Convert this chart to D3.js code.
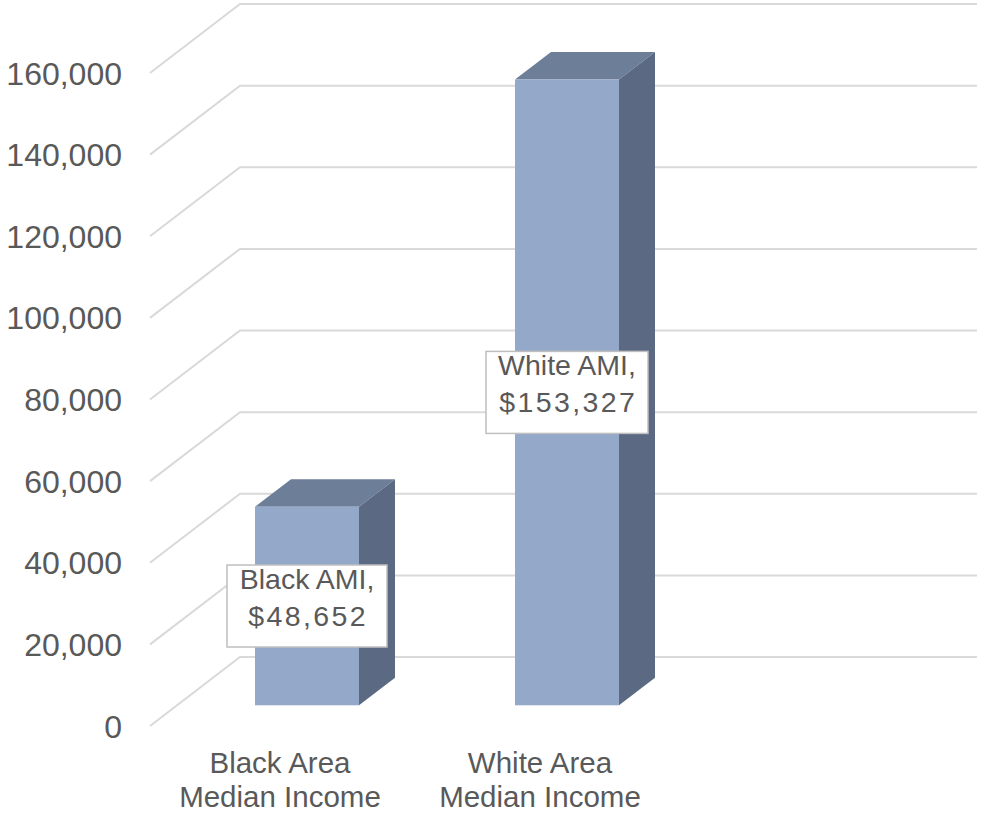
<!DOCTYPE html>
<html lang="en">
<head>
<meta charset="utf-8">
<script type="text/javascript" src="https://d3js.org/d3.v7.min.js"></script>
<style>
    body { margin: 0; background: #fff; }
    svg text { font-family: "Liberation Sans", Arial, sans-serif; fill: #595959; }
</style>
</head>
<body>
<div id="chart"></div>
<script>
    const categories = ["Black Area Median Income", "White Area Median Income"],
        categoryLines = [["Black Area", "Median Income"], ["White Area", "Median Income"]],
        values = [48652, 153327],
        labelNames = ["Black AMI", "White AMI"],
        tickValues = [0, 20000, 40000, 60000, 80000, 100000, 120000, 140000, 160000];

    var width = 982,
        height = 817,
        floorY = 726,        // front edge of the floor
        depthX = 90,         // full depth offset of the back wall
        depthY = -69,
        backRight = 977,
        barFront = 0.3,      // bars sit between these depth fractions
        barBack = 0.7;

    var y = d3.scaleLinear()
                .domain([0, 160000])
                .range([0, 653]);

    var x = d3.scaleBand()
                .domain(categories)
                .range([150, 670])
                .paddingInner(0.6)
                .paddingOuter(0.3);

    // project (floor x, value, depth fraction) onto the screen
    const px = (xv, d) => xv + d * depthX;
    const py = (v, d) => floorY - y(v) + d * depthY;

    var svg = d3.select("#chart")
                .append("svg")
                .attr("width", width)
                .attr("height", height);

    var grid = svg.append("g")
                .attr("fill", "none")
                .attr("stroke", "#d9d9d9")
                .attr("stroke-width", 2);

    // side wall diagonals + back wall lines
    grid.selectAll("path")
        .data(tickValues)
        .enter()
        .append("path")
        .attr("d", function(v) {
            return "M" + 150 + "," + py(v, 0) +
                   "L" + px(150, 1) + "," + py(v, 1) +
                   "L" + backRight + "," + py(v, 1);
        });

    // tick labels
    svg.append("g")
        .selectAll("text")
        .data(tickValues)
        .enter()
        .append("text")
        .attr("x", 122)
        .attr("y", function(v) { return py(v, 0); })
        .attr("dy", "0.36em")
        .attr("text-anchor", "end")
        .style("font-size", "32px")
        .text(d3.format(","));

    var bars = svg.append("g")
                .selectAll("g")
                .data(values)
                .enter()
                .append("g");

    // top face
    bars.append("path")
        .attr("fill", "#6d7e99")
        .attr("d", function(v, i) {
            var x0 = x(categories[i]), x1 = x0 + x.bandwidth();
            return "M" + px(x0, barFront) + "," + py(v, barFront) +
                   "L" + px(x0, barBack) + "," + py(v, barBack) +
                   "L" + px(x1, barBack) + "," + py(v, barBack) +
                   "L" + px(x1, barFront) + "," + py(v, barFront) + "Z";
        });

    // right side face
    bars.append("path")
        .attr("fill", "#5b6a82")
        .attr("d", function(v, i) {
            var x1 = x(categories[i]) + x.bandwidth();
            return "M" + px(x1, barFront) + "," + py(0, barFront) +
                   "L" + px(x1, barBack) + "," + py(0, barBack) +
                   "L" + px(x1, barBack) + "," + py(v, barBack) +
                   "L" + px(x1, barFront) + "," + py(v, barFront) + "Z";
        });

    // front face
    bars.append("rect")
        .attr("fill", "#94a8c9")
        .attr("x", function(v, i) { return px(x(categories[i]), barFront); })
        .attr("y", function(v) { return py(v, barFront); })
        .attr("width", x.bandwidth())
        .attr("height", function(v) { return y(v); });

    // data labels centred on the front face
    var labels = svg.append("g")
                .selectAll("g")
                .data(values)
                .enter()
                .append("g")
                .attr("transform", function(v, i) {
                    var cx = px(x(categories[i]) + x.bandwidth() / 2, barFront),
                        cy = py(v / 2, barFront);
                    return "translate(" + cx + "," + cy + ")";
                });

    labels.append("rect")
        .attr("x", function(v, i) { return i == 0 ? -80 : -81; })
        .attr("y", -41)
        .attr("width", function(v, i) { return i == 0 ? 160 : 162; })
        .attr("height", 82)
        .attr("fill", "#fff")
        .attr("stroke", "#bfbfbf")
        .attr("stroke-width", 1.5);

    labels.append("text")
        .attr("text-anchor", "middle")
        .attr("y", -17)
        .style("font-size", "28.5px")
        .text(function(v, i) { return labelNames[i] + ","; });

    labels.append("text")
        .attr("text-anchor", "middle")
        .attr("y", 20)
        .attr("dx", 1.2)
        .style("font-size", "28.5px")
        .style("letter-spacing", "2.4px")
        .text(function(v) { return "$" + d3.format(",")(v); });

    // category labels
    var cats = svg.append("g")
                .selectAll("text")
                .data(categories)
                .enter()
                .append("text")
                .attr("text-anchor", "middle")
                .style("font-size", "29.5px")
                .attr("x", function(c) { return x(c) + x.bandwidth() / 2; });

    cats.selectAll("tspan")
        .data(function(c, i) { return categoryLines[i]; })
        .enter()
        .append("tspan")
        .attr("x", function() { return d3.select(this.parentNode).attr("x"); })
        .attr("y", function(t, j) { return 773 + j * 34; })
        .text(function(t) { return t; });
</script>
</body>
</html>
